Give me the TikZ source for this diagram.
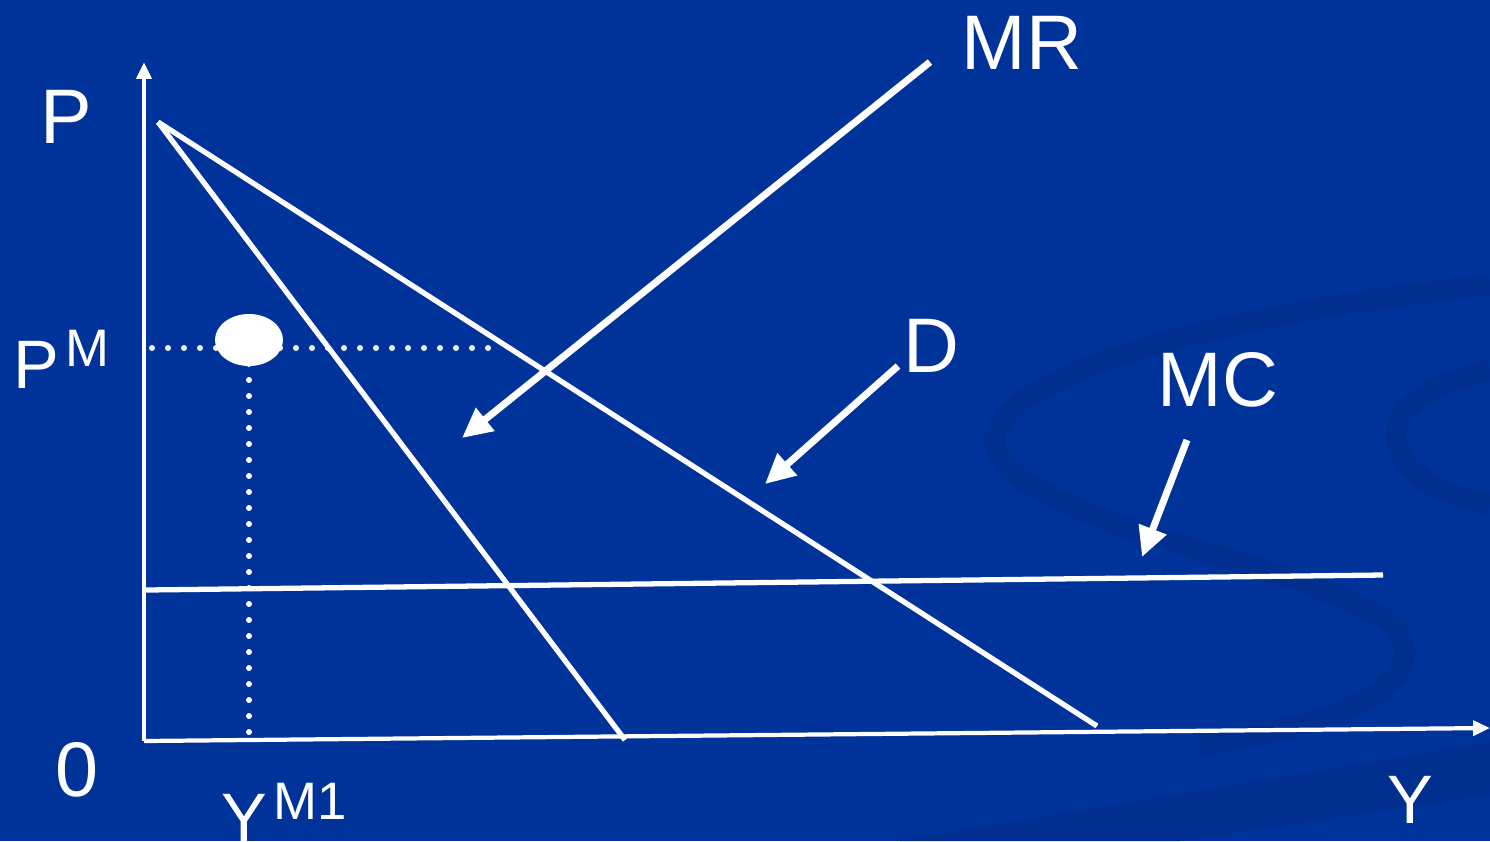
\documentclass[tikz,border=0pt]{standalone}
\usepackage{fontspec}
\setmainfont{Liberation Sans}
\usetikzlibrary{arrows.meta,shapes.geometric}
\definecolor{slideblue}{RGB}{0,51,153}
\definecolor{swirlblue}{RGB}{0,47,144}
\newcommand{\supmark}[1]{\kern1.6pt\raisebox{6pt}{\fontsize{15}{17}\selectfont #1}}

\begin{document}
\begin{tikzpicture}[x=0.01cm, y=-0.01cm,
  every node/.style={text=white, inner sep=0pt},
  curve/.style={draw=white, line width=1.5pt},
  axis/.style={draw=white, line width=1.2pt, -{Triangle[length=4.8pt,width=4.2pt]}},
  pointer/.style={draw=white, line width=2pt, -{Triangle[length=8.5pt,width=8pt]}},
  guide/.style={draw=white, line width=1.7pt, line cap=round, dash pattern=on 0pt off 4.55pt},
  big/.style={font=\fontsize{22}{26}\selectfont},
  mid/.style={font=\fontsize{19.5}{23}\selectfont}]
  % background and swirl
  \fill[slideblue] (0,0) rectangle (1490,841);
  \useasboundingbox (0,0) rectangle (1490,841);
  \draw[swirlblue, line width=6pt] (1490,285) .. controls (1250,310) and (995,370) .. (995,440)
    .. controls (995,520) and (1300,560) .. (1385,620) .. controls (1440,665) and (1380,720) .. (1200,745);
  \draw[swirlblue, line width=6pt] (1490,370) .. controls (1410,390) and (1385,420) .. (1400,455)
    .. controls (1420,490) and (1470,500) .. (1490,505);
  \fill[swirlblue] (900,841) -- (1490,742) -- (1490,795) -- (1180,841) -- cycle;

  % axes
  \coordinate (o) at (144,741);
  \coordinate (ptop) at (144,62);
  \coordinate (yend) at (1490,728);
  \draw[axis] (o) -- (ptop);
  \draw[axis] (o) -- (yend);

  % demand, marginal revenue, marginal cost
  \coordinate (a) at (158,122);
  \coordinate (d) at (1097,726);
  \coordinate (mr) at (625,740);
  \coordinate (mc1) at (146,590);
  \coordinate (mc2) at (1383,575);
  \draw[curve] (a) -- (d);
  \draw[curve] (a) -- (mr);
  \draw[curve] (mc1) -- (mc2);

  % monopoly point
  \coordinate (h1) at (152,348);
  \coordinate (h2) at (500,348);
  \coordinate (v1) at (249,348);
  \coordinate (v2) at (249,742);
  \draw[guide] (h1) -- (h2);
  \draw[guide] (v1) -- (v2);
  \node[ellipse, fill=white, minimum width=0.68cm, minimum height=0.52cm] (pm) at (249,340) {};

  % labels
  \node[big] (lp) at (66,117) {P};
  \node[mid, anchor=base west] (lpm) at (13,388) {P\supmark{M}};
  \node[big] (lo) at (77,770) {0};
  \node[mid, anchor=base west] (lym) at (221,841) {Y\supmark{M1}};
  \node[mid] (ly) at (1410,800) {Y};
  \node[big] (lmr) at (1022,43) {MR};
  \node[big] (ld) at (931,346) {D};
  \node[big] (lmc) at (1218,380) {MC};

  % pointers
  \coordinate (s1) at (930,62);
  \coordinate (t1) at (462,438);
  \coordinate (s2) at (898,366);
  \coordinate (t2) at (765,484);
  \coordinate (s3) at (1187,440);
  \coordinate (t3) at (1142,557);
  \draw[pointer] (s1) -- (t1);
  \draw[pointer] (s2) -- (t2);
  \draw[pointer] (s3) -- (t3);
\end{tikzpicture}
\end{document}
